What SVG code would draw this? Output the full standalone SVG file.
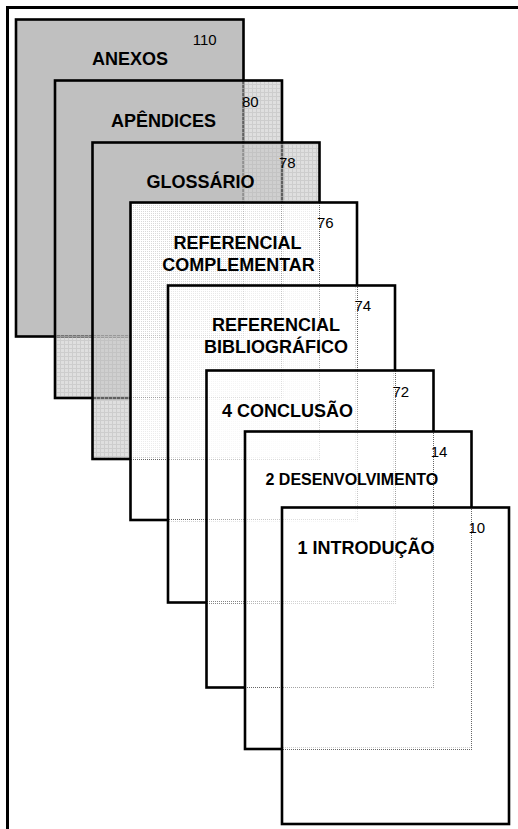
<svg xmlns="http://www.w3.org/2000/svg" width="518" height="829" viewBox="0 0 518 829">
<style>
.pg{stroke:#000;stroke-width:2.6}
.gr{fill:url(#grid)}
.lt{fill:url(#lt)}
.t{font-family:"Liberation Sans",Arial,sans-serif;font-weight:bold;font-size:18px;fill:#000}
.c{text-anchor:middle}
.n{font-family:"Liberation Sans",Arial,sans-serif;font-size:15px;fill:#000}
</style>
<defs>
<pattern id="grid" patternUnits="userSpaceOnUse" width="4" height="4">
<path d="M0,0h4v1h-4z M0,1h1v3h-1z" fill="#c0c0c0" fill-opacity="0.8"/>
<path d="M1,1h3v3h-3z" fill="#c0c0c0" fill-opacity="0.5"/>
</pattern>
<pattern id="lt" patternUnits="userSpaceOnUse" width="2" height="2">
<path d="M0,0h2v1h-2z M0,1h1v1h-1z" fill="#ffffff"/>
<path d="M1,1h1v1h-1z" fill="#ffffff" fill-opacity="0.4"/>
</pattern>
</defs>
<rect width="518" height="829" fill="#fff"/>
<g id="frame"><path d="M7.5,829 V7.5 H518" fill="none" stroke="#000" stroke-width="3"/></g>

<g id="anexos">
<rect class="pg" x="16" y="19.5" width="227.5" height="317" fill="#c0c0c0"/>
<text class="t c" x="130" y="65">ANEXOS</text>
<text class="n" x="192.7" y="45">110</text>
</g>
<g id="apendices">
<rect class="pg gr" x="55" y="80.5" width="227" height="317.5"/>
<text class="t c" x="163.5" y="127">APÊNDICES</text>
<text class="n" x="242" y="107">80</text>
</g>
<g id="glossario">
<rect class="pg gr" x="92.5" y="142.5" width="227" height="316.5"/>
<text class="t c" x="200.5" y="188">GLOSSÁRIO</text>
<text class="n" x="279" y="168">78</text>
</g>
<g id="ref-complementar">
<rect class="pg lt" x="130.5" y="202.5" width="226.5" height="317.5"/>
<text class="t c" x="237.5" y="249">REFERENCIAL</text>
<text class="t c" x="238.5" y="271">COMPLEMENTAR</text>
<text class="n" x="317" y="228">76</text>
</g>
<g id="ref-bibliografico">
<rect class="pg lt" x="168" y="285.5" width="227" height="317"/>
<text class="t c" x="276" y="331">REFERENCIAL</text>
<text class="t c" x="276" y="353">BIBLIOGRÁFICO</text>
<text class="n" x="354.5" y="311">74</text>
</g>
<g id="conclusao">
<rect class="pg lt" x="206.5" y="370.5" width="227" height="317"/>
<text class="t" x="222" y="417">4 CONCLUSÃO</text>
<text class="n" x="392.5" y="397">72</text>
</g>
<g id="desenvolvimento">
<rect class="pg lt" x="245" y="431.5" width="226.5" height="317.5"/>
<text class="t" x="265.5" y="485" style="font-size:16px">2 DESENVOLVIMENTO</text>
<text class="n" x="430.7" y="457">14</text>
</g>
<g id="introducao">
<rect class="pg lt" x="282" y="507.5" width="227" height="316.5"/>
<text class="t" x="297.5" y="554">1 INTRODUÇÃO</text>
<text class="n" x="468.5" y="533">10</text>
</g>
</svg>
